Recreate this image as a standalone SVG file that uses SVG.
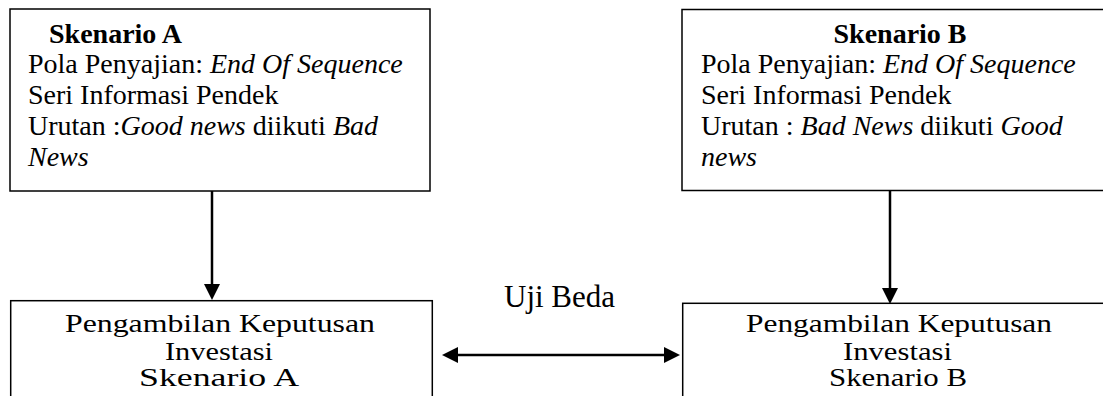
<svg xmlns="http://www.w3.org/2000/svg" width="1103" height="396" viewBox="0 0 1103 396">
<style>
.box{fill:#fff;stroke:#000;stroke-width:1.5}
.t{font-family:"Liberation Serif","Times New Roman",serif;font-size:28px;fill:#000}
.b{font-weight:bold}
.i{font-style:italic}
.s{font-family:"Liberation Serif","Times New Roman",serif;font-size:25px;fill:#000}
.conn{stroke:#000;stroke-width:2.5;fill:none}
</style>
<defs>
<marker id="ah" viewBox="0 0 16 16" refX="8" refY="8" markerWidth="16" markerHeight="16" markerUnits="userSpaceOnUse" orient="auto-start-reverse">
<path d="M0,0 L16,8 L0,16 z" fill="#000"/>
</marker>
</defs>
<g id="skenarioA">
<rect class="box" x="10" y="9" width="420" height="182"/>
<text class="t b" x="49" y="43">Skenario A</text>
<text class="t" x="28" y="73">Pola Penyajian: <tspan class="i">End Of Sequence</tspan></text>
<text class="t" x="28" y="104">Seri Informasi Pendek</text>
<text class="t" x="28" y="135">Urutan :<tspan class="i">Good news</tspan> diikuti <tspan class="i">Bad</tspan></text>
<text class="t i" x="28" y="166">News</text>
</g>
<g id="skenarioB">
<rect class="box" x="682" y="9.5" width="430" height="181"/>
<text class="t b" x="900" y="43" text-anchor="middle">Skenario B</text>
<text class="t" x="701" y="73">Pola Penyajian: <tspan class="i">End Of Sequence</tspan></text>
<text class="t" x="701" y="104">Seri Informasi Pendek</text>
<text class="t" x="701" y="135">Urutan : <tspan class="i">Bad News</tspan> diikuti <tspan class="i">Good</tspan></text>
<text class="t i" x="701" y="166">news</text>
</g>
<g id="keputusanA">
<rect class="box" x="10.7" y="300.7" width="421.6" height="120"/>
<text class="s" x="65" y="332" textLength="310" lengthAdjust="spacingAndGlyphs">Pengambilan Keputusan</text>
<text class="s" x="165" y="360" textLength="108" lengthAdjust="spacingAndGlyphs">Investasi</text>
<text class="s" x="139" y="386" textLength="160" lengthAdjust="spacingAndGlyphs">Skenario A</text>
</g>
<g id="keputusanB">
<rect class="box" x="682.7" y="303.3" width="430" height="120"/>
<text class="s" x="746" y="332" textLength="306" lengthAdjust="spacingAndGlyphs">Pengambilan Keputusan</text>
<text class="s" x="843" y="360" textLength="109" lengthAdjust="spacingAndGlyphs">Investasi</text>
<text class="s" x="829" y="386" textLength="138" lengthAdjust="spacingAndGlyphs">Skenario B</text>
</g>
<g id="connectors">
<line class="conn" x1="212" y1="191" x2="212" y2="292" marker-end="url(#ah)"/>
<line class="conn" x1="890" y1="190.5" x2="890" y2="296" marker-end="url(#ah)"/>
<line class="conn" x1="450" y1="355" x2="672" y2="355" marker-start="url(#ah)" marker-end="url(#ah)"/>
<text class="t" x="504" y="307" style="font-size:31px">Uji Beda</text>
</g>
</svg>
